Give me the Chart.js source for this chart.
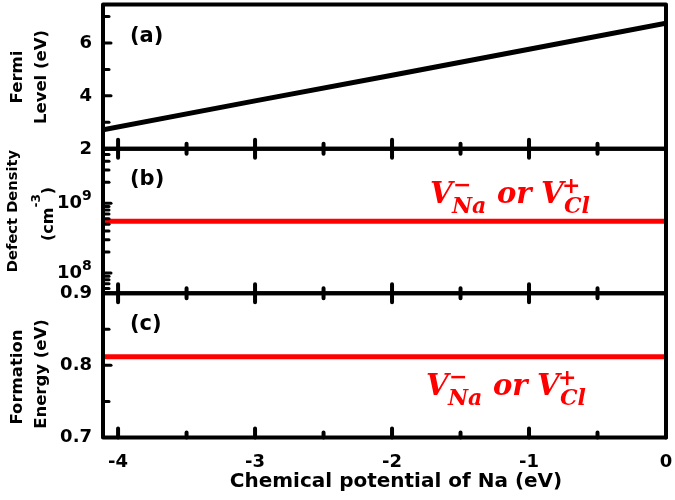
<!DOCTYPE html>
<html>
<head>
<meta charset="utf-8">
<script src="https://cdn.jsdelivr.net/npm/chart.js@4/dist/chart.umd.min.js"></script>
<style>
  html, body { margin: 0; background: #fff; }
  #wrap { width: 675px; height: 500px; }
</style>
</head>
<body>
<div id="wrap"><canvas id="myChart" width="675" height="500"></canvas></div>
<script>
// chemical potential of Na (eV) and the three curves
const muNa = [-4.11, -3, -2, -1, 0];
const fermiLevel = [2.72, 3.81, 4.78, 5.76, 6.74];
const defectDensity = [5.5e8, 5.5e8, 5.5e8, 5.5e8, 5.5e8];
const formationEnergy = [0.812, 0.812, 0.812, 0.812, 0.812];

// ticks
const xTicks = [-4, -3.5, -3, -2.5, -2, -1.5, -1, -0.5, 0];
const xTickLabels = ["-4", "-3", "-2", "-1", "0"];
const fermiTicks = [2, 3, 4, 5, 6, 7];
const fermiTickLabels = ["2", "4", "6"];
const densityTicks = [6e7, 7e7, 8e7, 9e7, 1e8, 2e8, 3e8, 4e8, 5e8, 6e8, 7e8, 8e8, 9e8,
  1e9, 2e9, 3e9, 4e9, 5e9, 6e9];
const densityTickLabels = ["10^8", "10^9"];
const energyTicks = [0.7, 0.75, 0.8, 0.85, 0.9];
const energyTickLabels = ["0.7", "0.8", "0.9"];

const SANS = "'DejaVu Sans', sans-serif";
const SERIF = "'DejaVu Serif', serif";

function pts(ys) {
  return muNa.map((x, i) => ({ x: x, y: ys[i] }));
}

function setTicks(list) {
  return (scale) => { scale.ticks = list.map((v) => ({ value: v })); };
}

function hideAxisLines() {
  return { display: false, drawTicks: false };
}

function noPad(s) {
  s.paddingTop = 0; s.paddingBottom = 0; s.paddingLeft = 0; s.paddingRight = 0;
}

function decade(v) {
  const e = Math.round(Math.log10(v));
  return Math.abs(Math.log10(v) - e) < 1e-9 ? e : null;
}

function isMajor(id, v) {
  if (id === "ya") return fermiTickLabels.includes(String(v));
  if (id === "yb") return decade(v) !== null;
  if (id === "yc") return energyTickLabels.includes(String(v));
  return xTickLabels.includes(String(v));
}

function rotText(ctx, text, x, y, font) {
  ctx.save();
  ctx.translate(x, y);
  ctx.rotate(-Math.PI / 2);
  ctx.font = font;
  ctx.textAlign = "center";
  ctx.textBaseline = "alphabetic";
  ctx.fillText(text, 0, 0);
  ctx.restore();
}

function vacancyLabel(ctx, dx, dy) {
  ctx.save();
  ctx.fillStyle = "#ff0000";
  ctx.textAlign = "left";
  ctx.textBaseline = "alphabetic";
  ctx.font = "italic bold 29px " + SERIF;
  ctx.fillText("V", 430 + dx, 203 + dy);
  ctx.fillText("or", 497 + dx, 203 + dy);
  ctx.fillText("V", 541 + dx, 203 + dy);
  ctx.font = "italic bold 22px " + SERIF;
  ctx.fillText("Na", 452 + dx, 213 + dy);
  ctx.fillText("Cl", 564 + dx, 213 + dy);
  ctx.textBaseline = "middle";
  ctx.fillText("\u2212", 453 + dx, 186 + dy);
  ctx.fillText("+", 562 + dx, 187 + dy);
  ctx.restore();
}

const decorations = {
  id: "decorations",
  afterDatasetsDraw(chart) {
    const { ctx, chartArea: ca, scales } = chart;
    const panels = [scales.ya, scales.yb, scales.yc];
    ctx.save();
    ctx.strokeStyle = "#000";
    ctx.lineCap = "round";

    // inward ticks on the left
    ctx.lineWidth = 3;
    panels.forEach((s) => {
      s.ticks.forEach((t) => {
        const y = s.getPixelForValue(t.value);
        const len = isMajor(s.id, t.value) ? 8 : 6;
        ctx.beginPath();
        ctx.moveTo(ca.left, y);
        ctx.lineTo(ca.left + len, y);
        ctx.stroke();
      });
    });

    // inward x ticks on every panel border except the very top
    ctx.lineWidth = 4;
    panels.forEach((s, i) => {
      scales.x.ticks.forEach((t) => {
        const x = scales.x.getPixelForValue(t.value);
        const len = isMajor("x", t.value) ? 9 : 5;
        ctx.beginPath();
        ctx.moveTo(x, s.bottom);
        ctx.lineTo(x, s.bottom - len);
        if (i > 0) {
          ctx.moveTo(x, s.top);
          ctx.lineTo(x, s.top + len);
        }
        ctx.stroke();
      });
    });

    // panel frames
    ctx.lineWidth = 4;
    ctx.lineJoin = "round";
    ctx.lineCap = "butt";
    panels.forEach((s) => {
      ctx.strokeRect(ca.left, s.top, ca.right - ca.left, s.bottom - s.top);
    });
    ctx.restore();
  },
  afterDraw(chart) {
    const { ctx, scales } = chart;
    ctx.save();
    ctx.fillStyle = "#000";

    // log axis labels 10^n
    const yb = scales.yb;
    yb.ticks.forEach((t) => {
      const e = decade(t.value);
      if (e === null || !densityTickLabels.includes("10^" + e)) return;
      const y = yb.getPixelForValue(t.value);
      ctx.font = "bold 18px " + SANS;
      ctx.textAlign = "right";
      ctx.textBaseline = "middle";
      ctx.fillText("10", 82, y);
      ctx.font = "bold 14px " + SANS;
      ctx.textAlign = "left";
      ctx.textBaseline = "alphabetic";
      ctx.fillText(String(e), 82, y - 3);
    });

    // panel letters
    ctx.font = "bold 21px " + SANS;
    ctx.textAlign = "left";
    ctx.textBaseline = "alphabetic";
    ctx.fillText("(a)", 130, 42);
    ctx.fillText("(b)", 130, 185);
    ctx.fillText("(c)", 130, 330);

    // y titles
    rotText(ctx, "Fermi", 22, 77, "bold 16.5px " + SANS);
    rotText(ctx, "Level (eV)", 46, 77, "bold 16.5px " + SANS);
    rotText(ctx, "Defect Density", 17, 211, "bold 14.7px " + SANS);
    // (cm^-3)
    ctx.save();
    ctx.translate(53, 214);
    ctx.rotate(-Math.PI / 2);
    const f1 = "bold 16px " + SANS, f2 = "bold 12px " + SANS;
    ctx.font = f1; const wA = ctx.measureText("(cm").width; const wC = ctx.measureText(")").width;
    ctx.font = f2; const wB = ctx.measureText("-3").width;
    const x0 = -(wA + wB + wC) / 2;
    ctx.textAlign = "left";
    ctx.font = f1; ctx.fillText("(cm", x0, 0);
    ctx.font = f2; ctx.fillText("-3", x0 + wA, -13);
    ctx.font = f1; ctx.fillText(")", x0 + wA + wB, 0);
    ctx.restore();
    rotText(ctx, "Formation", 22, 377, "bold 16.5px " + SANS);
    rotText(ctx, "Energy (eV)", 46, 374, "bold 16.5px " + SANS);

    // x title
    ctx.font = "bold 20px " + SANS;
    ctx.textAlign = "center";
    ctx.textBaseline = "alphabetic";
    ctx.fillText("Chemical potential of Na (eV)", 396, 487);

    ctx.restore();

    vacancyLabel(ctx, 0, 0);
    vacancyLabel(ctx, -4, 192);
  }
};

const tickFont = { family: SANS, size: 18, weight: "bold" };

new Chart(document.getElementById("myChart").getContext("2d"), {
  type: "line",
  data: {
    datasets: [
      { label: "Fermi level", data: pts(fermiLevel), xAxisID: "x", yAxisID: "ya",
        borderColor: "#000", borderWidth: 5, pointRadius: 0, fill: false },
      { label: "Defect density", data: pts(defectDensity), xAxisID: "x", yAxisID: "yb",
        borderColor: "#ff0000", borderWidth: 5, pointRadius: 0, fill: false },
      { label: "Formation energy", data: pts(formationEnergy), xAxisID: "x", yAxisID: "yc",
        borderColor: "#ff0000", borderWidth: 5, pointRadius: 0, fill: false },
    ],
  },
  options: {
    responsive: false,
    animation: false,
    layout: { padding: { left: 0, right: 9, top: 4.5, bottom: 0 } },
    plugins: { legend: { display: false }, tooltip: { enabled: false } },
    scales: {
      x: {
        type: "linear", position: "bottom", min: -4.11, max: 0,
        grid: hideAxisLines(), border: { display: false },
        afterBuildTicks: setTicks(xTicks),
        afterFit: (s) => { s.height = 62.5; noPad(s); },
        ticks: {
          font: tickFont, color: "#000", padding: 14, maxRotation: 0, autoSkip: false,
          callback: (v) => (xTickLabels.includes(String(v)) ? String(v) : ""),
        },
      },
      yc: {
        type: "linear", position: "left", stack: "panels", stackWeight: 1,
        min: 0.7, max: 0.9,
        grid: hideAxisLines(), border: { display: false },
        afterBuildTicks: setTicks(energyTicks),
        afterFit: (s) => { s.width = 103; noPad(s); },
        ticks: {
          font: tickFont, color: "#000", padding: 11, autoSkip: false,
          callback: (v) => (energyTickLabels.includes(String(v)) ? String(v) : ""),
        },
      },
      yb: {
        type: "logarithmic", position: "left", stack: "panels", stackWeight: 1,
        min: Math.pow(10, 7.71), max: Math.pow(10, 9.78),
        grid: hideAxisLines(), border: { display: false },
        afterBuildTicks: setTicks(densityTicks),
        afterFit: (s) => { s.width = 103; noPad(s); },
        ticks: { font: tickFont, color: "#000", autoSkip: false, callback: () => "" },
      },
      ya: {
        type: "linear", position: "left", stack: "panels", stackWeight: 1,
        min: 2, max: 7.45,
        grid: hideAxisLines(), border: { display: false },
        afterBuildTicks: setTicks(fermiTicks),
        afterFit: (s) => { s.width = 103; noPad(s); },
        ticks: {
          font: tickFont, color: "#000", padding: 11, autoSkip: false,
          callback: (v) => (fermiTickLabels.includes(String(v)) ? String(v) : ""),
        },
      },
    },
  },
  plugins: [decorations],
});
</script>
</body>
</html>
